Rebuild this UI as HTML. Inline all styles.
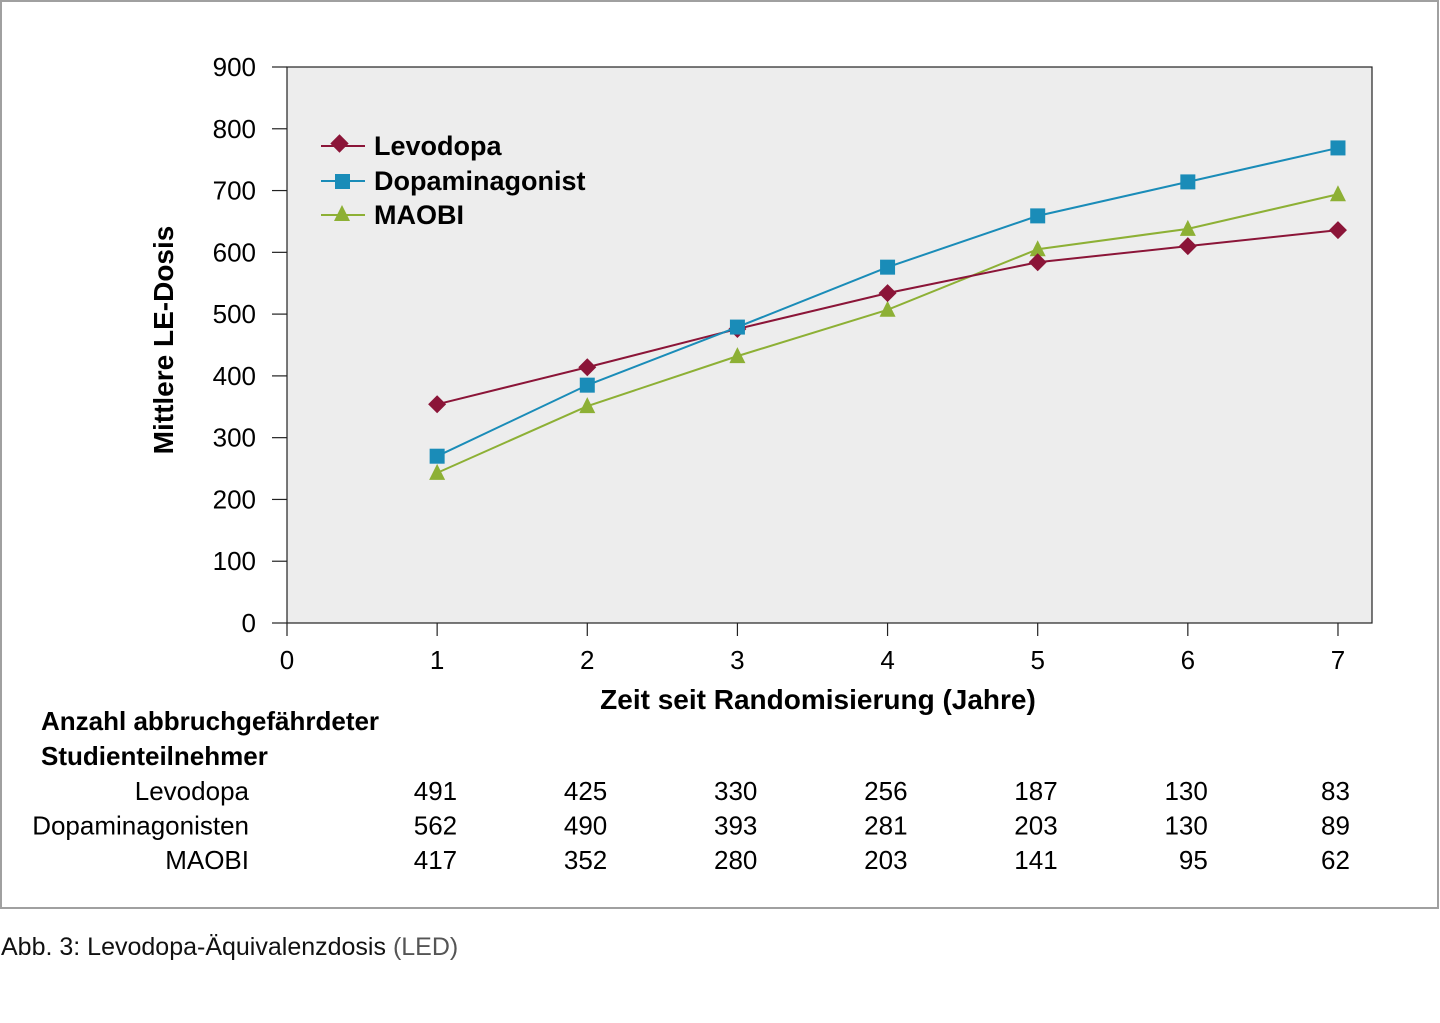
<!DOCTYPE html>
<html><head><meta charset="utf-8"><style>
body{margin:0;background:#fff;width:1440px;height:1018px;overflow:hidden}
svg text{font-family:"Liberation Sans",sans-serif}
</style></head><body>
<svg id="chart" width="1440" height="1018" xmlns="http://www.w3.org/2000/svg">
<rect x="1" y="1" width="1437" height="907" fill="#fff" stroke="#a0a0a0" stroke-width="2"/>
<rect x="287" y="67" width="1085" height="556" fill="#ededed" stroke="#222" stroke-width="1.2"/>
<g id="axes"></g>
<g id="series"></g>
<g>
 <line x1="321" y1="146" x2="365" y2="146" stroke="#8b1538" stroke-width="2"/>
 <rect x="333" y="137" width="13" height="13" transform="rotate(45 339.5 143.5)" fill="#8b1538"/>
 <text x="374" y="155" font-size="27" font-weight="bold">Levodopa</text>
 <line x1="321" y1="181" x2="365" y2="181" stroke="#1a8cb8" stroke-width="2"/>
 <rect x="335" y="174" width="15" height="15" fill="#1a8cb8"/>
 <text x="374" y="190" font-size="27" font-weight="bold">Dopaminagonist</text>
 <line x1="321" y1="215" x2="365" y2="215" stroke="#8db035" stroke-width="2"/>
 <polygon points="342,205 350,221 334,221" fill="#8db035"/>
 <text x="374" y="224" font-size="27" font-weight="bold">MAOBI</text>
</g>
<text transform="translate(173,340) rotate(-90)" text-anchor="middle" font-size="28" font-weight="bold">Mittlere LE-Dosis</text>
<text x="818" y="709" text-anchor="middle" font-size="28" font-weight="bold">Zeit seit Randomisierung (Jahre)</text>
<text x="41" y="730" font-size="26" font-weight="bold">Anzahl abbruchgefährdeter</text>
<text x="41" y="765" font-size="26" font-weight="bold">Studienteilnehmer</text>
<g id="table"></g>
<text x="1" y="955" font-size="25" fill="#111">Abb. 3: Levodopa-Äquivalenzdosis <tspan fill="#555">(LED)</tspan></text>
</svg>
<script>
const years=[1,2,3,4,5,6,7];
const levodopa=[354,414,476,534,584,610,636];
const dopaminagonist=[270,385,479,576,659,714,769];
const maobi=[243,351,432,507,605,638,694];
const yTicks=[0,100,200,300,400,500,600,700,800,900];
const xTicks=[0,1,2,3,4,5,6,7];
const tableNames=["Levodopa","Dopaminagonisten","MAOBI"];
const tableLevodopa=[491,425,330,256,187,130,83];
const tableDopa=[562,490,393,281,203,130,89];
const tableMaobi=[417,352,280,203,141,95,62];
const NS="http://www.w3.org/2000/svg";
const X=v=>287+v*150.14, Y=v=>623-v*556/900;
function mk(t,a,p){const e=document.createElementNS(NS,t);for(const k in a)e.setAttribute(k,a[k]);p.appendChild(e);return e;}
const ax=document.getElementById('axes');
yTicks.forEach(v=>{
 const l=mk('line',{x1:272,x2:287,y1:Y(v),y2:Y(v),stroke:'#222','stroke-width':1.2},ax);
 
 
 const t=mk('text',{x:256,y:Y(v)+9,'text-anchor':'end','font-size':26},ax);t.textContent=v;
 
 
});
xTicks.forEach(v=>{
 const l=mk('line',{x1:X(v),x2:X(v),y1:623,y2:636,stroke:'#222','stroke-width':1.2},ax);
 
 
 const t=mk('text',{x:X(v),y:669,'text-anchor':'middle','font-size':26},ax);t.textContent=v;
 
 
});
const sg=document.getElementById('series');
function series(vals,color,name,shape){
 const pl=mk('polyline',{points:vals.map((v,i)=>X(years[i])+','+Y(v)).join(' '),fill:'none',stroke:color,'stroke-width':2},sg);
 
 
 vals.forEach((v,i)=>{
  const x=X(years[i]),y=Y(v);let m;
  if(shape==='d')m=mk('polygon',{points:`${x},${y-9} ${x+9},${y} ${x},${y+9} ${x-9},${y}`,fill:color},sg);
  else if(shape==='s')m=mk('rect',{x:x-7.5,y:y-7.5,width:15,height:15,fill:color},sg);
  else m=mk('polygon',{points:`${x},${y-9} ${x+8},${y+7} ${x-8},${y+7}`,fill:color},sg);
  
  
 });
}
series(maobi,'#8db035','maobi','t');
series(levodopa,'#8b1538','levodopa','d');
series(dopaminagonist,'#1a8cb8','dopaminagonist','s');
const tb=document.getElementById('table');
[tableLevodopa,tableDopa,tableMaobi].forEach((row,r)=>{
 const y=800+r*34.5;
 const n=mk('text',{x:249,y:y,'text-anchor':'end','font-size':26},tb);n.textContent=tableNames[r];
 
 
 row.forEach((v,i)=>{
  const t=mk('text',{x:X(years[i])+(i===6?12:20),y:y,'text-anchor':'end','font-size':26},tb);t.textContent=v;
  
  
 });
});
</script>
</body></html>
